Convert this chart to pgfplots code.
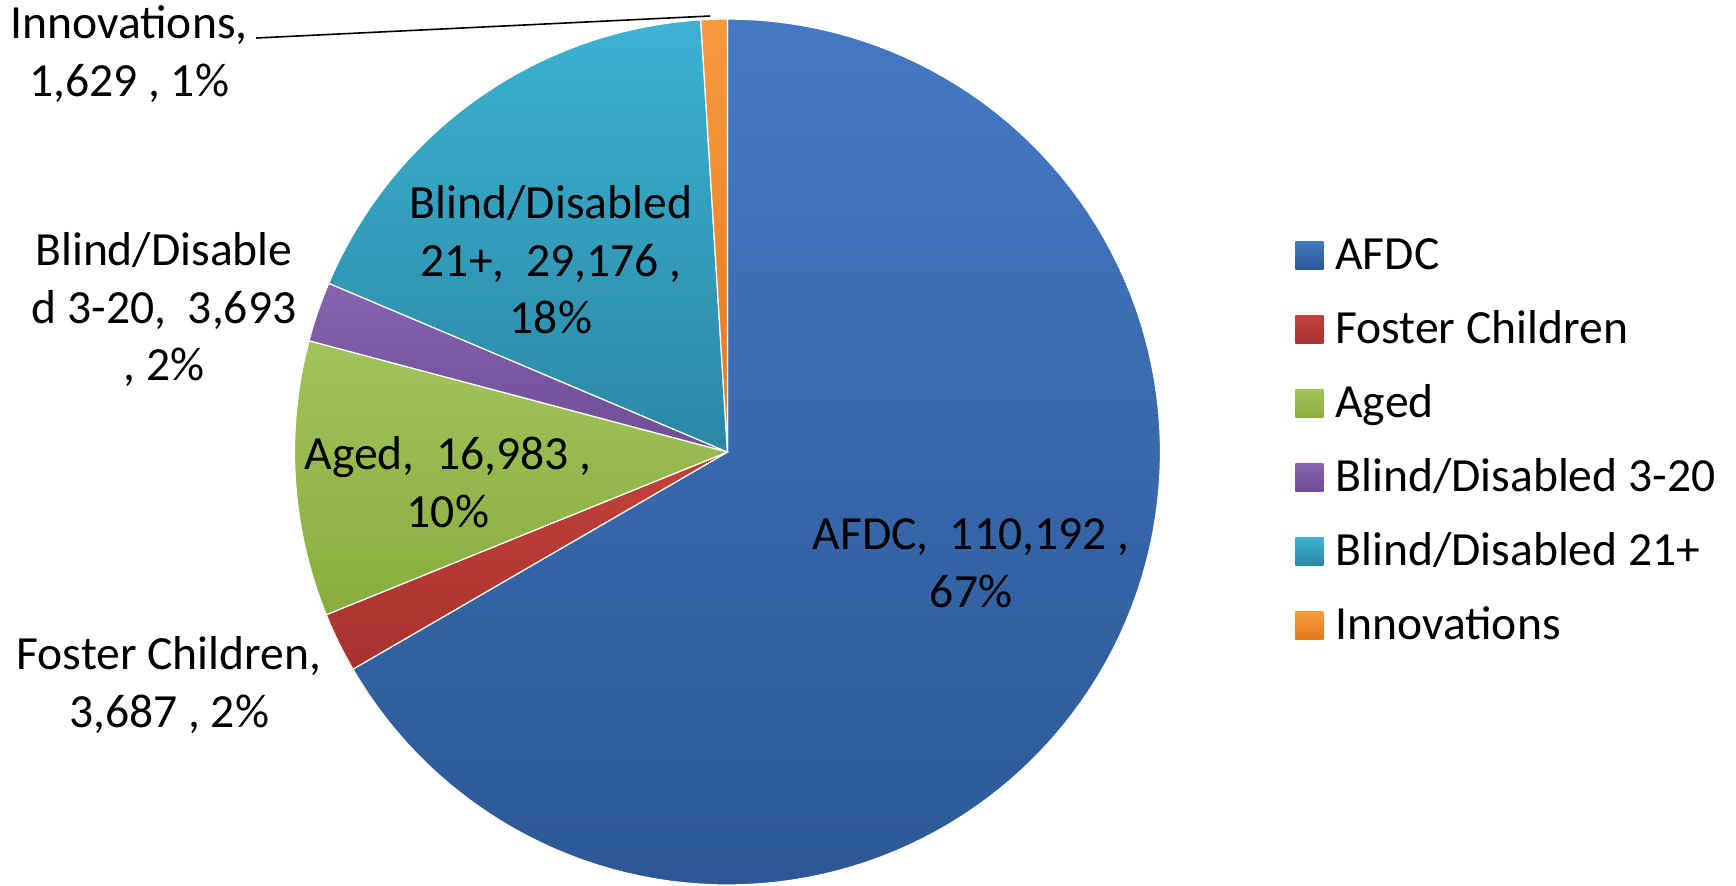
\documentclass[border=0pt]{standalone}
\usepackage{pgfplots}
\pgfplotsset{compat=1.18}
\usepackage{pgfplotstable}
\usepackage{xfp}
\usepackage{fontspec}
\setmainfont{Carlito}

\definecolor{afdcT}{HTML}{4479C2}
\definecolor{afdcB}{HTML}{2C5896}
\definecolor{fosT}{HTML}{C4413C}
\definecolor{fosB}{HTML}{A8322E}
\definecolor{agedT}{HTML}{A2C35A}
\definecolor{agedB}{HTML}{88AD3E}
\definecolor{purT}{HTML}{8563AE}
\definecolor{purB}{HTML}{6E4E95}
\definecolor{cyaT}{HTML}{3CB2D2}
\definecolor{cyaB}{HTML}{2A88A4}
\definecolor{oraT}{HTML}{F89A40}
\definecolor{oraB}{HTML}{E4791E}

\pgfplotstableread{
name value
AFDC 110192
Foster 3687
Aged 16983
BD320 3693
BD21 29176
Innov 1629
}\piedata

\begin{document}
\begin{tikzpicture}
\pgfplotstablegetelem{0}{value}\of\piedata \edef\vA{\pgfplotsretval}
\pgfplotstablegetelem{1}{value}\of\piedata \edef\vB{\pgfplotsretval}
\pgfplotstablegetelem{2}{value}\of\piedata \edef\vC{\pgfplotsretval}
\pgfplotstablegetelem{3}{value}\of\piedata \edef\vD{\pgfplotsretval}
\pgfplotstablegetelem{4}{value}\of\piedata \edef\vE{\pgfplotsretval}
\pgfplotstablegetelem{5}{value}\of\piedata \edef\vF{\pgfplotsretval}
\edef\total{\fpeval{\vA+\vB+\vC+\vD+\vE+\vF}}
\edef\aA{-90}
\edef\aB{\fpeval{round(\aA+360*\vA/\total,4)}}
\edef\aC{\fpeval{round(\aB+360*\vB/\total,4)}}
\edef\aD{\fpeval{round(\aC+360*\vC/\total,4)}}
\edef\aE{\fpeval{round(\aD+360*\vD/\total,4)}}
\edef\aF{\fpeval{round(\aE+360*\vE/\total,4)}}
\edef\aG{270}
\def\cx{727.5}
\def\cy{452}
\def\r{433}
\begin{axis}[
  scale only axis, width=868pt, height=442.5pt,
  xmin=0, xmax=1736, ymin=0, ymax=885, y dir=reverse,
  hide axis, clip=false,
  every axis plot/.append style={draw=white, line width=0.6pt, samples=120, variable=\t},
  legend image code/.code={\path[#1, draw=none] (0pt,0pt) rectangle (14pt,14pt);},
  legend style={at={(axis cs:1295,239)}, anchor=north west, draw=none, fill=none,
    inner sep=0pt, row sep=17pt,
    nodes={inner sep=0pt, inner xsep=6pt, text height=15pt, text depth=5pt, anchor=base west},
    font=\fontsize{23.8}{28}\selectfont},
  legend cell align=left,
]
\addplot[top color=afdcT, bottom color=afdcB, domain=\aA:\aB] ({\cx+\r*cos(t)},{\cy+\r*sin(t)}) -- (axis cs:\cx,\cy) -- cycle;
\addlegendentry{AFDC}
\addplot[top color=fosT, bottom color=fosB, domain=\aB:\aC] ({\cx+\r*cos(t)},{\cy+\r*sin(t)}) -- (axis cs:\cx,\cy) -- cycle;
\addlegendentry{Foster Children}
\addplot[top color=agedT, bottom color=agedB, domain=\aC:\aD] ({\cx+\r*cos(t)},{\cy+\r*sin(t)}) -- (axis cs:\cx,\cy) -- cycle;
\addlegendentry{Aged}
\addplot[top color=purT, bottom color=purB, domain=\aD:\aE] ({\cx+\r*cos(t)},{\cy+\r*sin(t)}) -- (axis cs:\cx,\cy) -- cycle;
\addlegendentry{Blind/Disabled 3-20}
\addplot[top color=cyaT, bottom color=cyaB, domain=\aE:\aF] ({\cx+\r*cos(t)},{\cy+\r*sin(t)}) -- (axis cs:\cx,\cy) -- cycle;
\addlegendentry{Blind/Disabled 21+}
\addplot[top color=oraT, bottom color=oraB, domain=\aF:\aG] ({\cx+\r*cos(t)},{\cy+\r*sin(t)}) -- (axis cs:\cx,\cy) -- cycle;
\addlegendentry{Innovations}

\addplot[draw=black, line width=0.8pt, forget plot] coordinates {(256,38) (710,16)};

\begin{scope}[every node/.style={align=center, inner sep=0pt, font=\fontsize{23.8}{28.75}\selectfont}]
\node at (axis cs:971,563) {AFDC,\ \ 110,192 ,\\67\%};
\node at (axis cs:551,260) {Blind/Disabled\\21+,\ \ 29,176 ,\\18\%};
\node at (axis cs:164,310) {Blind/Disable\\d 3-20,\ \ 3,693\\, 2\%};
\node at (axis cs:448,482) {Aged,\ \ 16,983 ,\\10\%};
\node at (axis cs:169,685) {Foster Children,\\3,687 , 2\%};
\node at (axis cs:129,54) {Innovations,\\1,629 , 1\%};
\end{scope}
\end{axis}
\pgfresetboundingbox
\path (current axis.south west) rectangle (current axis.north east);
\end{tikzpicture}
\end{document}
